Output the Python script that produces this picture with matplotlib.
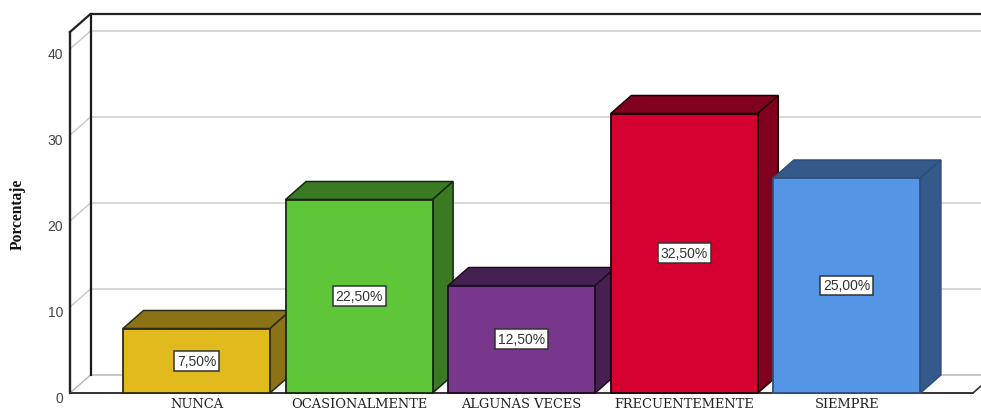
import numpy as np
import matplotlib
matplotlib.use('Agg')
import matplotlib.pyplot as plt
from matplotlib.patches import Polygon
from matplotlib.transforms import ScaledTranslation

categories = ['NUNCA', 'OCASIONALMENTE', 'ALGUNAS VECES', 'FRECUENTEMENTE', 'SIEMPRE']
values = [7.5, 22.5, 12.5, 32.5, 25.0]
labels = ['7,50%', '22,50%', '12,50%', '32,50%', '25,00%']
front_colors = ['#E1BB1E', '#5FC639', '#78368C', '#D4002F', '#5595E5']
side_colors = ['#8B7214', '#3A7A23', '#472052', '#80001D', '#345A8C']
edge_colors = ['#2b2b1a', '#16260f', '#1c0d22', '#1a0006', '#2f4f7a']
y_ticks = [0, 10, 20, 30, 40]

W, H = 981, 410
# pixel layout of the front plane
left, right, bottom, top = 70, 973, 394, 33
pitch = 162.6
first_center = 196.5
bar_w = 147 / pitch
y_scale = 8.6
dx = 20.5 / pitch
dy = 18 / y_scale

fig = plt.figure(figsize=(W / 100, H / 100), dpi=100)
ax = fig.add_axes([left / W, 1 - bottom / H, (right - left) / W, (bottom - top) / H])
ax.set_xlim((left - first_center) / pitch, (right - first_center) / pitch)
ax.set_ylim(0, (bottom - top) / y_scale)
x0, x1 = ax.get_xlim()
y1 = ax.get_ylim()[1]

# walls and floor
for t in y_ticks[1:]:
    ax.plot([x0, x0 + dx, x1 + dx], [t, t + dy, t + dy], color='#c8c8c8', lw=1.0, clip_on=False, zorder=1)
ax.plot([x0, x0 + dx, x1 + dx], [0, dy, dy], color='#b4b4b4', lw=1.0, clip_on=False, zorder=1)
ax.plot([x1, x1 + dx], [0, dy], color='#333333', lw=1.2, clip_on=False, zorder=1)
ax.plot([x0 + dx, x0 + dx], [dy, y1 + dy], color='#1a1a1a', lw=1.6, clip_on=False, zorder=2)
ax.plot([x0, x0 + dx, x1 + dx], [y1, y1 + dy, y1 + dy], color='#222222', lw=1.6, clip_on=False, zorder=2)

# 3d bars
x = np.arange(len(categories))
for i in range(len(categories)):
    l = x[i] - bar_w / 2
    r = x[i] + bar_w / 2
    v = values[i]
    z = 3 + i
    ax.add_patch(Polygon([(l, v), (r, v), (r + dx, v + dy), (l + dx, v + dy)], closed=True,
                         fc=side_colors[i], ec=edge_colors[i], lw=1.1, zorder=z, clip_on=False))
    ax.add_patch(Polygon([(r, 0), (r + dx, dy), (r + dx, v + dy), (r, v)], closed=True,
                         fc=side_colors[i], ec=edge_colors[i], lw=1.1, zorder=z, clip_on=False))
    ax.bar(x[i], v, width=bar_w, color=front_colors[i], edgecolor=edge_colors[i], lw=1.3, zorder=z, clip_on=False)
    ax.text(x[i], v / 2, labels[i], ha='center', va='center', fontsize=10, color='#333333',
            family='Liberation Sans', zorder=20,
            bbox=dict(boxstyle='square,pad=0.2', fc='white', ec='#333333', lw=1.1))

for s in ['top', 'right']:
    ax.spines[s].set_visible(False)
ax.spines['left'].set_linewidth(1.7)
ax.spines['left'].set_color('#222222')
ax.spines['bottom'].set_linewidth(1.4)
ax.spines['bottom'].set_color('#333333')
ax.spines['left'].set_zorder(2)
ax.spines['bottom'].set_zorder(2)
ax.patch.set_alpha(0)

ax.set_yticks(y_ticks)
ax.set_xticks(x, categories)
ax.tick_params(axis='y', length=0, pad=5, labelsize=10, labelcolor='#444444')
ax.tick_params(axis='x', length=0, pad=3, labelsize=9.4, labelcolor='#222222')
shift = ScaledTranslation(0, 2 / 100, fig.dpi_scale_trans)
for t in ax.get_yticklabels():
    t.set_family('Liberation Sans')
    t.set_va('top')
    t.set_transform(t.get_transform() + shift)
for t in ax.get_xticklabels():
    t.set_family('DejaVu Serif')

fig.text(18 / W, 1 - 214 / H, 'Porcentaje', rotation=90, ha='center', va='center',
         family='Liberation Serif', weight='bold', fontsize=11.2, color='#111111')

fig.savefig('out.png', dpi=100)
